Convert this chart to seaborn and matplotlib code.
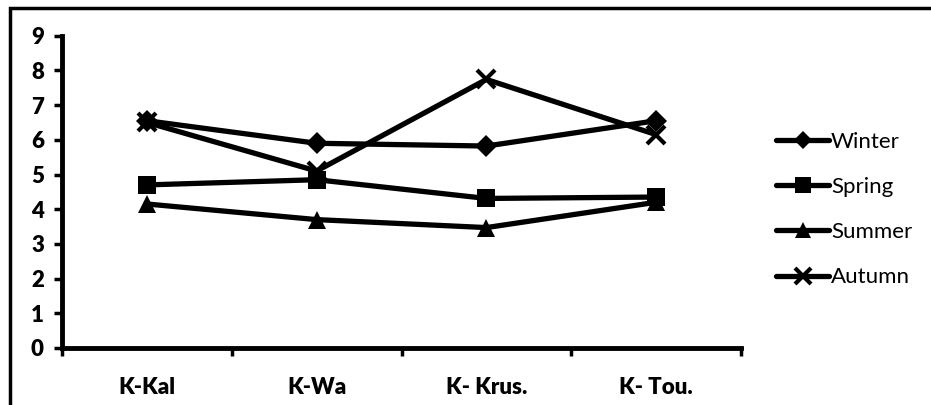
import matplotlib
matplotlib.use("Agg")
import matplotlib.pyplot as plt
import matplotlib.patches as mpatches
from matplotlib.ticker import FixedLocator
import seaborn as sns
import pandas as pd

sites = ["K-Kal", "K-Wa", "K- Krus.", "K- Tou."]
winter = [6.55, 5.9, 5.82, 6.55]
spring = [4.7, 4.85, 4.31, 4.35]
summer = [4.15, 3.7, 3.47, 4.2]
autumn = [6.5, 5.1, 7.74, 6.15]
seasons = ["Winter", "Spring", "Summer", "Autumn"]

df = pd.DataFrame({
    "site": sites * 4,
    "x": list(range(len(sites))) * 4,
    "value": winter + spring + summer + autumn,
    "season": [s for s in seasons for _ in sites],
})

sns.set_theme(style="white")
plt.rcParams["font.family"] = ["Lato", "DejaVu Sans"]

fig = plt.figure(figsize=(9.31, 4.05), dpi=100)
ax = fig.add_axes([62 / 931, 1 - 348 / 405, (741 - 62) / 931, (348 - 35.7) / 405])

markers = {"Winter": "D", "Spring": "s", "Summer": "^", "Autumn": "X"}
palette = {s: "black" for s in seasons}
sns.lineplot(data=df, x="x", y="value", hue="season", style="season",
             markers=markers, dashes=False, palette=palette,
             linewidth=3.8, ax=ax, legend=False)

# marker sizes per series
msizes = {"Winter": 11, "Spring": 13, "Summer": 13, "Autumn": 13}
for line, s in zip(ax.get_lines(), seasons):
    line.set_markersize(msizes[s])
    line.set_markeredgecolor("black")
    line.set_markerfacecolor("black")
    if s == "Autumn":
        line.set_marker("x")
        line.set_markeredgewidth(3)
    else:
        line.set_markeredgewidth(0)

ax.set_xlim(-0.5, 3.5)
ax.set_ylim(0, 9)
ax.set_yticks(range(0, 10))
ax.set_xticks(range(len(sites)))
ax.set_xticklabels(sites)
ax.xaxis.set_minor_locator(FixedLocator([-0.5, 0.5, 1.5, 2.5, 3.5]))
ax.tick_params(axis="x", which="major", length=0, pad=21, labelsize=16)
ax.tick_params(axis="x", which="minor", bottom=True, length=6, width=2.5, color="black", direction="out")
ax.tick_params(axis="y", left=True, length=6, width=2.5, color="black", direction="out", pad=7, labelsize=16)
for lab in ax.get_xticklabels() + ax.get_yticklabels():
    lab.set_fontweight("heavy")
    lab.set_color("black")
ax.set_xlabel("")
ax.set_ylabel("")

for side in ["top", "right"]:
    ax.spines[side].set_visible(False)
for side in ["left", "bottom"]:
    ax.spines[side].set_color("black")
    ax.spines[side].set_linewidth(3.5)

# legend
handles = []
for line, s in zip(ax.get_lines(), seasons):
    h = plt.Line2D([], [], color="black", linewidth=3.8, marker=line.get_marker(),
                   markersize=line.get_markersize() * 0.85,
                   markeredgewidth=line.get_markeredgewidth(),
                   markerfacecolor="black", markeredgecolor="black")
    handles.append(h)
leg = fig.legend(handles, seasons, loc="upper left", bbox_to_anchor=(776 / 931, 1 - 132 / 405),
                 frameon=False, fontsize=16, handlelength=2.4, handletextpad=0.08,
                 labelspacing=1.13, borderaxespad=0, borderpad=0)
for t in leg.get_texts():
    t.set_color("black")

# chart frame
frame = mpatches.Rectangle((10 / 931, -0.2), 1.2, 0.2 + (405 - 8) / 405,
                           transform=fig.transFigure, fill=False, edgecolor="black",
                           linewidth=2.5, clip_on=False)
fig.patches.append(frame)

fig.savefig("out.png", dpi=100, facecolor="white")
